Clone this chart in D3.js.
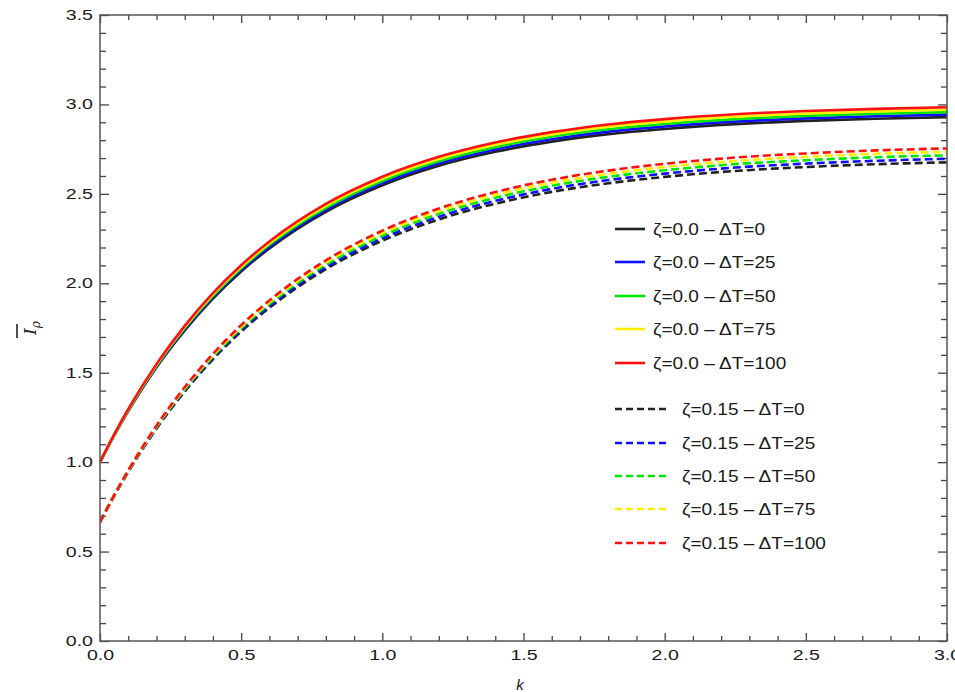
<!doctype html>
<html>
  <head>
    <title>I rho vs k</title>
    <style>
      body { margin: 0; background: #fff; }
      text { font-family: "Liberation Sans", Arial, sans-serif; fill: #1a1a1a; }
      .frame { fill: none; stroke: #555; stroke-width: 1.5px; }
      .tick line { stroke: #444; stroke-width: 1.3px; }
      .curve { fill: none; stroke-width: 2.6px; }
    </style>
  </head>
  <body>
    <svg id="chart" width="955" height="692"></svg>
    <script src="https://d3js.org/d3.v7.min.js"></script>
    <script>
      var kVals = [0, 0.05, 0.1, 0.2, 0.3, 0.4, 0.5, 0.6, 0.8, 1.0, 1.2, 1.4, 1.6, 1.8, 2.0, 2.25, 2.5, 2.75, 3.0];

      // zeta = 0.0 (solid)
      var s0_dT0   = [1.000, 1.149, 1.286, 1.530, 1.737, 1.915, 2.066, 2.195, 2.400, 2.548, 2.657, 2.735, 2.792, 2.834, 2.863, 2.890, 2.908, 2.920, 2.929];
      var s0_dT25  = [1.000, 1.150, 1.289, 1.535, 1.743, 1.923, 2.075, 2.205, 2.411, 2.560, 2.670, 2.748, 2.805, 2.848, 2.877, 2.904, 2.922, 2.934, 2.943];
      var s0_dT50  = [1.000, 1.152, 1.291, 1.539, 1.750, 1.930, 2.084, 2.215, 2.422, 2.572, 2.682, 2.761, 2.819, 2.861, 2.891, 2.918, 2.936, 2.948, 2.957];
      var s0_dT75  = [1.000, 1.153, 1.294, 1.544, 1.756, 1.938, 2.092, 2.224, 2.433, 2.584, 2.695, 2.774, 2.832, 2.875, 2.904, 2.931, 2.949, 2.961, 2.970];
      var s0_dT100 = [1.000, 1.154, 1.296, 1.548, 1.762, 1.945, 2.101, 2.234, 2.444, 2.596, 2.707, 2.787, 2.845, 2.888, 2.918, 2.945, 2.963, 2.975, 2.984];

      // zeta = 0.15 (dashed)
      var s15_dT0   = [0.665, 0.810, 0.945, 1.187, 1.395, 1.575, 1.730, 1.863, 2.079, 2.238, 2.357, 2.445, 2.511, 2.559, 2.595, 2.628, 2.650, 2.666, 2.676];
      var s15_dT25  = [0.665, 0.811, 0.947, 1.191, 1.401, 1.583, 1.739, 1.873, 2.091, 2.252, 2.372, 2.461, 2.528, 2.577, 2.613, 2.647, 2.669, 2.685, 2.696];
      var s15_dT50  = [0.665, 0.813, 0.950, 1.196, 1.407, 1.590, 1.748, 1.884, 2.104, 2.266, 2.388, 2.478, 2.545, 2.595, 2.632, 2.666, 2.688, 2.705, 2.715];
      var s15_dT75  = [0.665, 0.814, 0.952, 1.200, 1.413, 1.598, 1.757, 1.894, 2.116, 2.280, 2.403, 2.494, 2.562, 2.612, 2.650, 2.684, 2.707, 2.724, 2.735];
      var s15_dT100 = [0.665, 0.815, 0.954, 1.204, 1.419, 1.605, 1.766, 1.904, 2.128, 2.294, 2.418, 2.510, 2.579, 2.630, 2.668, 2.703, 2.726, 2.743, 2.754];

      var legendLabels = [
        "ζ=0.0 – ΔT=0", "ζ=0.0 – ΔT=25", "ζ=0.0 – ΔT=50", "ζ=0.0 – ΔT=75", "ζ=0.0 – ΔT=100",
        "ζ=0.15 – ΔT=0", "ζ=0.15 – ΔT=25", "ζ=0.15 – ΔT=50", "ζ=0.15 – ΔT=75", "ζ=0.15 – ΔT=100"
      ];
      var xTicks = [0, 0.5, 1.0, 1.5, 2.0, 2.5, 3.0];
      var yTicks = [0, 0.5, 1.0, 1.5, 2.0, 2.5, 3.0, 3.5];

      var colors = ["#222222", "#1010ff", "#00e600", "#ffee00", "#ff1010"];

      (function() {
        var series = [s0_dT0, s0_dT25, s0_dT50, s0_dT75, s0_dT100,
                      s15_dT0, s15_dT25, s15_dT50, s15_dT75, s15_dT100].map(function(v, i) {
          return { values: v, color: colors[i % 5], dashed: i >= 5, label: legendLabels[i] };
        });

        var svg = d3.select("#chart");
        var plotL = 100, plotR = 947, plotT = 15, plotB = 641;

        var x = d3.scaleLinear().domain([0, 3]).range([plotL, plotR]);
        var y = d3.scaleLinear().domain([0, 3.5]).range([plotB, plotT]);

        var minorX = d3.range(0, 31).filter(function(i) { return i % 5 != 0; }).map(function(i) { return i / 10; });
        var minorY = d3.range(0, 36).filter(function(i) { return i % 5 != 0; }).map(function(i) { return i / 10; });

        function fmt(d) { return d3.format(".1f")(d); }

        // bottom axis: major with labels, minor without
        var gb = svg.append("g").attr("transform", "translate(0," + plotB + ")");
        gb.call(d3.axisBottom(x).tickValues(xTicks).tickFormat(fmt).tickSizeInner(-8).tickSizeOuter(0).tickPadding(9));
        gb.append("g").call(d3.axisBottom(x).tickValues(minorX).tickFormat("").tickSizeInner(-5).tickSizeOuter(0));
        // top axis, ticks only
        var gt = svg.append("g").attr("transform", "translate(0," + plotT + ")");
        gt.call(d3.axisTop(x).tickValues(xTicks).tickFormat("").tickSizeInner(-8).tickSizeOuter(0));
        gt.append("g").call(d3.axisTop(x).tickValues(minorX).tickFormat("").tickSizeInner(-5).tickSizeOuter(0));
        // left axis
        var gl = svg.append("g").attr("transform", "translate(" + plotL + ",0)");
        gl.call(d3.axisLeft(y).tickValues(yTicks).tickFormat(fmt).tickSizeInner(-9).tickSizeOuter(0).tickPadding(7));
        gl.append("g").call(d3.axisLeft(y).tickValues(minorY).tickFormat("").tickSizeInner(-6).tickSizeOuter(0));
        // right axis
        var gr = svg.append("g").attr("transform", "translate(" + plotR + ",0)");
        gr.call(d3.axisRight(y).tickValues(yTicks).tickFormat("").tickSizeInner(-9).tickSizeOuter(0));
        gr.append("g").call(d3.axisRight(y).tickValues(minorY).tickFormat("").tickSizeInner(-6).tickSizeOuter(0));

        svg.selectAll(".domain").remove();
        svg.selectAll(".tick text").attr("fill", "#1a1a1a").style("font-size", "14px")
          .style("font-family", "'Liberation Sans', Arial, sans-serif");
        gb.selectAll(".tick text").attr("transform", "scale(1.4,1)");
        gl.selectAll(".tick text").attr("transform", function() {
          var xx = +d3.select(this).attr("x");
          return "translate(" + xx + ",0) scale(1.4,1) translate(" + (-xx) + ",0)";
        });

        // curves
        svg.append("clipPath").attr("id", "plot").append("rect")
          .attr("x", plotL).attr("y", plotT).attr("width", plotR - plotL).attr("height", plotB - plotT);

        var line = d3.line()
          .x(function(d, i) { return x(kVals[i]); })
          .y(function(d) { return y(d); })
          .curve(d3.curveMonotoneX);

        var gc = svg.append("g").attr("clip-path", "url(#plot)");
        // dashed first, then solid; black..red so red ends on top
        series.slice(5).concat(series.slice(0, 5)).forEach(function(s) {
          gc.append("path")
            .attr("class", "curve")
            .attr("d", line(s.values))
            .attr("stroke", s.color)
            .attr("stroke-dasharray", s.dashed ? "8,4" : null);
        });

        svg.append("rect").attr("class", "frame")
          .attr("x", plotL).attr("y", plotT).attr("width", plotR - plotL).attr("height", plotB - plotT);

        // legend
        var solidRows = [229, 262, 296, 329, 363];
        var dashRows = [409, 443, 476, 509, 543];
        var lg = svg.append("g");
        series.forEach(function(s, i) {
          var yy = s.dashed ? dashRows[i - 5] : solidRows[i];
          var x1 = 615, x2 = s.dashed ? 670 : 645, tx = s.dashed ? 682 : 653;
          lg.append("line")
            .attr("x1", x1).attr("x2", x2).attr("y1", yy).attr("y2", yy)
            .attr("stroke", s.color).attr("stroke-width", 2.6)
            .attr("stroke-dasharray", s.dashed ? "7,4" : null);
          lg.append("text")
            .attr("transform", "translate(" + tx + "," + yy + ") scale(1.12,1)")
            .attr("dy", "0.36em")
            .style("font-size", "17px")
            .text(s.label);
        });

        // axis titles
        svg.append("text")
          .attr("x", 520).attr("y", 690)
          .style("font-size", "15px").style("font-style", "italic")
          .attr("text-anchor", "middle")
          .text("k");

        var yl = svg.append("g").attr("transform", "translate(36,328) rotate(-90)");
        yl.append("text")
          .attr("text-anchor", "middle")
          .style("font-size", "17px").style("font-style", "italic")
          .style("font-family", "'DejaVu Serif', serif")
          .html("I<tspan dy='4' style='font-size:12px'>ρ</tspan>");
        yl.append("line")
          .attr("x1", -10).attr("x2", 4).attr("y1", -19).attr("y2", -19)
          .attr("stroke", "#222").attr("stroke-width", 1.6);
      })();
    </script>
  </body>
</html>
